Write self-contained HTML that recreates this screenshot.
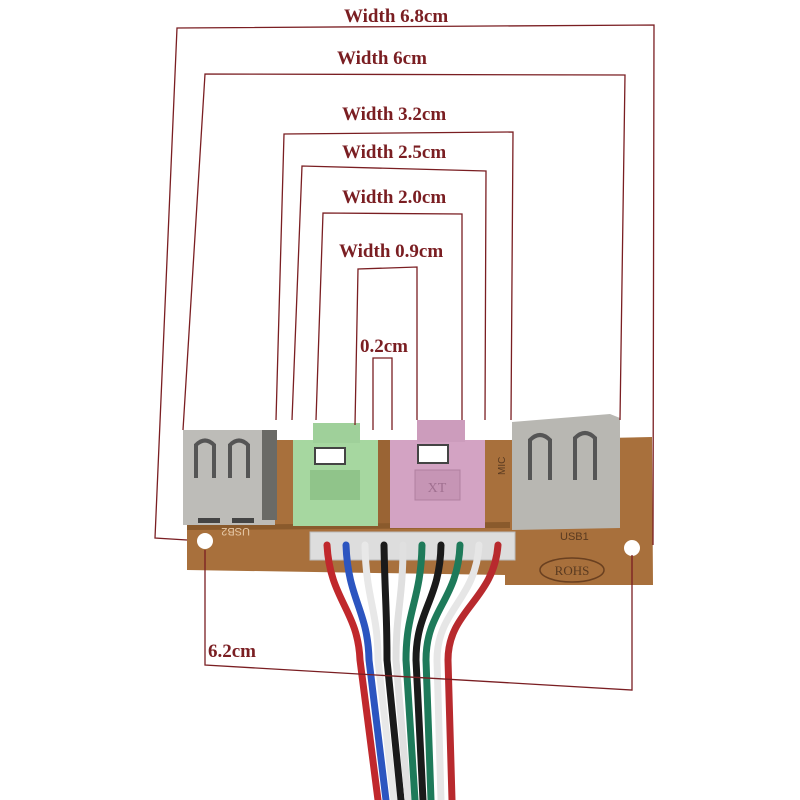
<!DOCTYPE html>
<html><head><style>body{margin:0;background:#fff}svg{display:block}</style></head><body>
<svg width="800" height="800" viewBox="0 0 800 800" xmlns="http://www.w3.org/2000/svg">
<rect width="800" height="800" fill="#fff"/>
<!-- board -->
<polygon points="187,525 510,522 510,440 652,437 653,585 505,585 505,575 187,570" fill="#a8703c"/>
<polygon points="275,440 295,440 295,525 275,525" fill="#a8703c"/>
<polygon points="378,440 392,440 392,525 378,525" fill="#9a6434"/>
<polygon points="485,440 512,440 512,525 485,525" fill="#a8703c"/>
<polygon points="187,525 510,522 510,528 187,530" fill="#8a5a2c"/>
<circle cx="205" cy="541" r="8" fill="#fff"/>
<circle cx="632" cy="548" r="8" fill="#fff"/>
<text x="250" y="536" font-family="Liberation Sans,sans-serif" font-size="11" fill="#e6c9a8" transform="rotate(180 250 532)">USB2</text>
<text x="560" y="540" font-family="Liberation Sans,sans-serif" font-size="11" fill="#5a3a20">USB1</text>
<ellipse cx="572" cy="570" rx="32" ry="12" fill="none" stroke="#6a4020" stroke-width="1.5"/>
<text x="572" y="575" text-anchor="middle" font-family="Liberation Serif,serif" font-size="13" fill="#5a3a20">ROHS</text>
<text x="505" y="475" font-family="Liberation Sans,sans-serif" font-size="10" fill="#5a3a20" transform="rotate(-90 505 475)">MIC</text>
<!-- left usb -->
<rect x="183" y="430" width="92" height="95" fill="#bdbcb8"/>
<rect x="262" y="430" width="15" height="90" fill="#6a6a66"/>
<path d="M196 478 V445 Q205 436 214 445 V478" fill="none" stroke="#555" stroke-width="4"/>
<path d="M230 478 V445 Q239 436 248 445 V478" fill="none" stroke="#555" stroke-width="4"/>
<rect x="198" y="518" width="22" height="5" fill="#444"/><rect x="232" y="518" width="22" height="5" fill="#444"/>
<!-- green jack -->
<rect x="293" y="440" width="85" height="86" fill="#a6d7a0"/>
<rect x="313" y="423" width="47" height="20" fill="#9fd09a"/>
<rect x="315" y="448" width="30" height="16" fill="#fff" stroke="#444" stroke-width="2"/>
<rect x="310" y="470" width="50" height="30" fill="#90c48a"/>
<!-- pink jack -->
<rect x="390" y="440" width="95" height="88" fill="#d3a3c3"/>
<rect x="417" y="420" width="48" height="22" fill="#cc9cbc"/>
<rect x="418" y="445" width="30" height="18" fill="#fff" stroke="#444" stroke-width="2"/>
<rect x="415" y="470" width="45" height="30" fill="#c695b5" stroke="#b080a0"/>
<text x="437" y="492" text-anchor="middle" font-family="Liberation Serif,serif" font-size="14" fill="#a07090">XT</text>
<!-- right usb -->
<polygon points="512,422 610,414 620,418 620,528 512,530" fill="#b8b7b2"/>
<path d="M530 480 V440 Q540 430 550 440 V480" fill="none" stroke="#555" stroke-width="4"/>
<path d="M575 480 V438 Q585 428 595 438 V480" fill="none" stroke="#555" stroke-width="4"/>
<!-- connector -->
<rect x="310" y="532" width="205" height="28" fill="#ddd" stroke="#bbb"/>
<!-- wires -->
<g fill="none" stroke-width="7" stroke-linecap="round">
<path d="M327,545 C330,600 358,610 360,660 L378,800" stroke="#c0282c"/>
<path d="M346,545 C348,600 368,610 369,660 L386,800" stroke="#2c55c0"/>
<path d="M365,545 C366,600 378,610 378,660 L394,800" stroke="#e8e8e8"/>
<path d="M384,545 C385,600 387,610 387,660 L401,800" stroke="#1a1a1a"/>
<path d="M403,545 C403,600 396,610 396,660 L408,800" stroke="#e0e0e0"/>
<path d="M422,545 C421,600 406,610 406,660 L415,800" stroke="#1e7a5a"/>
<path d="M441,545 C440,600 416,610 416,660 L423,800" stroke="#1a1a1a"/>
<path d="M460,545 C458,600 426,610 426,660 L431,800" stroke="#1e7a5a"/>
<path d="M479,545 C476,600 437,610 437,660 L441,800" stroke="#e6e6e6"/>
<path d="M498,545 C494,600 448,610 448,660 L452,800" stroke="#b82a2e"/>
</g>
<!-- dimension lines -->
<g fill="none" stroke="#7a1e22" stroke-width="1.3">
<path d="M187,540 L155,538 L177,28 L654,25 L653,545"/>
<path d="M183,430 L205,74 L625,75 L620,420"/>
<path d="M276,420 L284,134 L513,132 L511,420"/>
<path d="M292,420 L302,166 L486,171 L485,420"/>
<path d="M316,420 L323,213 L462,214 L462,420"/>
<path d="M355,425 L358,269 L417,267 L417,420"/>
<path d="M373,430 L373,358 L392,358 L392,430"/>
<path d="M205,550 L205,665 L632,690 L632,555"/>
</g>
<g font-family="Liberation Serif,serif" font-weight="bold" font-size="19" fill="#7a1e22">
<text x="344" y="22">Width 6.8cm</text>
<text x="337" y="64">Width 6cm</text>
<text x="342" y="120">Width 3.2cm</text>
<text x="342" y="158">Width 2.5cm</text>
<text x="342" y="203">Width 2.0cm</text>
<text x="339" y="257">Width 0.9cm</text>
<text x="360" y="352">0.2cm</text>
<text x="208" y="657">6.2cm</text>
</g>
</svg>
</body></html>
